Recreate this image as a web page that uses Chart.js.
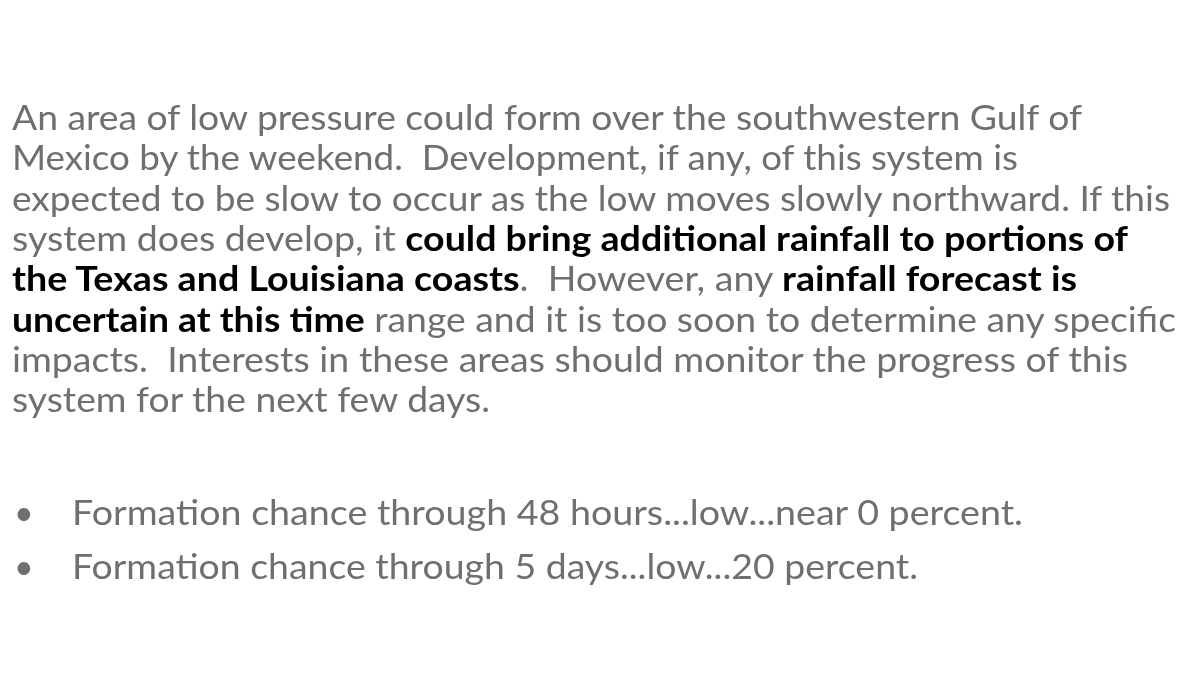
<!DOCTYPE html>
<html>
<head>
<meta charset="utf-8">
<script src="https://cdn.jsdelivr.net/npm/chart.js@4"></script>
<style>
  html, body { margin: 0; padding: 0; background: #fff; }
  #slide { position: relative; width: 1200px; height: 675px; overflow: hidden;
           font-family: Lato, "Open Sans", sans-serif; color: #6f6f6f; font-size: 34px; }
  .ln, .bul { position: absolute; white-space: nowrap; line-height: 40px; transform-origin: 0 50%; }
  .ln { left: 12px; }
  b { color: #000; font-weight: 700; }
  #chartBox { position: absolute; left: 0; top: 0; width: 1200px; height: 675px; }
</style>
</head>
<body>
<div id="slide">
  <div id="chartBox"><canvas id="bg"></canvas></div>
  <div id="text"></div>
</div>
<script>
// --- Дані ---
const periods = ['48 hours', '5 days'];
const levels = ['low', 'low'];
const chances = ['near 0', '20'];

const lines = [
  'An area of low pressure could form over the southwestern Gulf of',
  'Mexico by the weekend.&nbsp; Development, if any, of this system is',
  'expected to be slow to occur as the low moves slowly northward. If this',
  'system does develop, it <b>could bring additional rainfall to portions of</b>',
  '<b>the Texas and Louisiana coasts</b>.&nbsp; However, any <b>rainfall forecast is</b>',
  '<b>uncertain at this time</b> range and it is too soon to determine any specific',
  'impacts.&nbsp; Interests in these areas should monitor the progress of this',
  'system for the next few days.'
];
// праві краї рядків на слайді (для підгонки ширини)
const lineRight = [1082, 1018, 1170, 1128, 1077, 1176, 1128, 490];
const bulletRight = [1023, 918];

function fit(el, left, right) {
  const w = el.getBoundingClientRect().width;
  el.style.transform = `scaleX(${(right - left) / w})`;
}

// --- Текст ---
const box = document.getElementById('text');
lines.forEach((t, i) => {
  const d = document.createElement('div');
  d.className = 'ln';
  d.style.top = (97 + i * 40.3) + 'px';
  d.innerHTML = t;
  box.appendChild(d);
  fit(d, 12, lineRight[i]);
});
periods.forEach((p, i) => {
  const y = 492 + i * 54;
  const dot = document.createElement('div');
  dot.className = 'bul'; dot.style.left = '14px'; dot.style.top = y + 'px';
  dot.textContent = '•';
  const d = document.createElement('div');
  d.className = 'bul'; d.style.left = '72px'; d.style.top = y + 'px';
  d.textContent = `Formation chance through ${p}...${levels[i]}...${chances[i]} percent.`;
  box.appendChild(dot); box.appendChild(d);
  fit(d, 72, bulletRight[i]);
});

// --- Фоновий графік (невидимий, без осей) ---
new Chart(document.getElementById('bg').getContext('2d'), {
  type: 'bar',
  data: { labels: periods, datasets: [{ data: [0, 20], backgroundColor: 'rgba(0,0,0,0)' }] },
  options: {
    responsive: true, maintainAspectRatio: false, animation: false,
    plugins: { legend: { display: false }, tooltip: { enabled: false } },
    scales: { x: { display: false }, y: { display: false } }
  }
});
</script>
</body>
</html>
